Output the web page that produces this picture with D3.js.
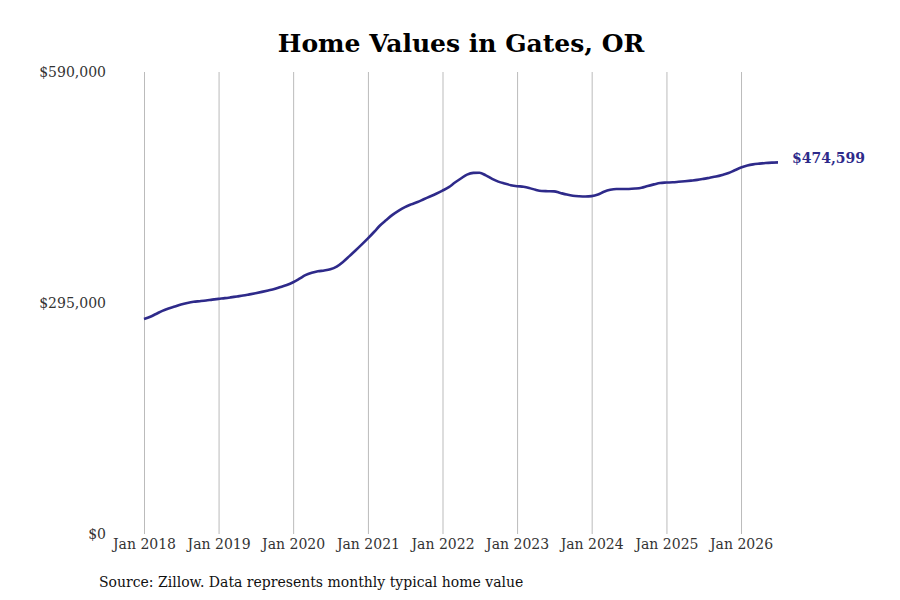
<!DOCTYPE html>
<html>
<head>
<meta charset="utf-8">
<script src="https://cdn.jsdelivr.net/npm/d3@7"></script>
<style>
  body { margin: 0; background: #fff; }
  svg text { font-family: "DejaVu Serif", serif; }
</style>
</head>
<body>
<div id="chart"></div>
<script>
// Chart size
const width = 900;
const height = 600;
const margin = { top: 72, right: 122, bottom: 66, left: 144 };

// Data: monthly typical home value, Jan 2018 onwards (in dollars)
const startYear = 2018;
const values = [
  274600, 277500, 281000, 285000, 288000, 290500, 293000, 295000, 296500, 297300, 298200, 299300,
  300300, 301200, 302200, 303400, 304500, 306000, 307500, 309200, 311000, 312800, 315500, 318000,
  321500, 326000, 330500, 333500, 335500, 336500, 338000, 341500, 347500, 354500, 362000, 369500,
  377500, 386000, 394000, 401000, 407500, 413000, 417500, 421000, 424000, 427500, 431000, 434500,
  438500, 443000, 448500, 454000, 459000, 461200, 461300, 458000, 453500, 450000, 447500, 445500,
  444200, 443500, 442000, 439500, 438000, 437800, 437600, 435500, 433500, 432000, 431300, 431000,
  431500, 433500, 437000, 439500, 440500, 440500, 440600, 441200, 442300, 444500, 446500, 448300,
  448800, 449200, 449800, 450500, 451300, 452200, 453500, 455000, 456500, 458500, 461000, 464500,
  468000, 470500, 472000, 473000, 473800, 474300, 474599
];
const yTicks = [0, 295000, 590000];
const xTickYears = [2018, 2019, 2020, 2021, 2022, 2023, 2024, 2025, 2026];
const title = "Home Values in Gates, OR";
const source = "Source: Zillow. Data represents monthly typical home value";

const data = values.map((v, i) => ({ date: new Date(startYear, i, 1), value: v }));

// Create SVG element
const svg = d3.select("#chart")
    .append("svg")
    .attr("width", width)
    .attr("height", height);

// Scales
const x = d3.scaleTime()
    .domain(d3.extent(data, d => d.date))
    .range([margin.left, width - margin.right]);

const y = d3.scaleLinear()
    .domain([0, 590000])
    .range([height - margin.bottom, margin.top]);

// Vertical gridlines + x labels
const xAxis = svg.append("g")
    .attr("transform", `translate(0, ${height - margin.bottom})`)
    .call(d3.axisBottom(x)
        .tickValues(xTickYears.map(yr => new Date(yr, 0, 1)))
        .tickSize(-(height - margin.top - margin.bottom))
        .tickPadding(5)
        .tickFormat(d3.timeFormat("%b %Y")));
xAxis.select(".domain").remove();
xAxis.selectAll("line").attr("stroke", "#bbb");
xAxis.selectAll("text")
    .attr("font-size", 14)
    .attr("fill", "#333");

// Y labels
const yAxis = svg.append("g")
    .attr("transform", `translate(${margin.left - 38}, 0)`)
    .call(d3.axisLeft(y)
        .tickValues(yTicks)
        .tickSize(0)
        .tickPadding(0)
        .tickFormat(d => "$" + d3.format(",")(d)));
yAxis.select(".domain").remove();
yAxis.selectAll("text")
    .attr("font-size", 14)
    .attr("fill", "#333");

// Line
const line = d3.line()
    .x(d => x(d.date))
    .y(d => y(d.value))
    .curve(d3.curveMonotoneX);

svg.append("path")
    .datum(data)
    .attr("fill", "none")
    .attr("stroke", "#2e2a8a")
    .attr("stroke-width", 2.6)
    .attr("d", line);

// Last value label
const last = data[data.length - 1];
svg.append("text")
    .attr("x", x(last.date) + 14)
    .attr("y", y(last.value))
    .attr("dy", "0.05em")
    .attr("font-size", 14)
    .attr("font-weight", "bold")
    .attr("fill", "#2e2a8a")
    .text("$" + d3.format(",")(last.value));

// Title
svg.append("text")
    .attr("x", 461)
    .attr("y", 52)
    .attr("text-anchor", "middle")
    .attr("font-size", 25)
    .attr("font-weight", "bold")
    .attr("fill", "#000")
    .text(title);

// Source
svg.append("text")
    .attr("x", 99)
    .attr("y", 587)
    .attr("font-size", 14)
    .attr("fill", "#111")
    .text(source);
</script>
</body>
</html>
